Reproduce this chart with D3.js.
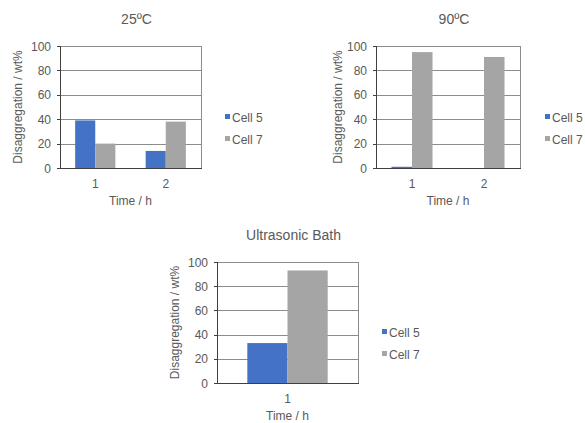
<!DOCTYPE html>
<meta charset="utf-8">
<style>
  body { margin: 0; background: #fff; }
  text { font-family: "Liberation Sans", Arial, sans-serif; fill: #595959; }
  .grid line { stroke: #8c8c8c; stroke-width: 1px; shape-rendering: crispEdges; }
</style>
<body>
<script src="https://d3js.org/d3.v7.min.js"></script>
<script>
// data
var series = ["Cell 5", "Cell 7"];
var colors = ["#4472C4", "#A5A5A5"];
var yTicks = [0, 20, 40, 60, 80, 100];

var times25 = ["1", "2"];
var cell5_25 = [39, 14];
var cell7_25 = [20, 38];

var times90 = ["1", "2"];
var cell5_90 = [1, 0];
var cell7_90 = [95, 91];

var timesUS = ["1"];
var cell5_US = [33];
var cell7_US = [93];

var svg = d3.select("body").append("svg").attr("width", 585).attr("height", 423);

var charts = [
  {title: "25ºC", cats: times25, vals: [cell5_25, cell7_25],
   x0: 60, x1: 201, y0: 46, y1: 168, labX: 18, legX: 225, legY: 117},
  {title: "90ºC", cats: times90, vals: [cell5_90, cell7_90],
   x0: 376, x1: 520, y0: 46, y1: 168, labX: 338, legX: 545, legY: 117},
  {title: "Ultrasonic Bath", cats: timesUS, vals: [cell5_US, cell7_US],
   x0: 217, x1: 358, y0: 262, y1: 383, labX: 175, legX: 382, legY: 332}
];

charts.forEach(function(c) {
  var g = svg.append("g");
  var x = d3.scaleBand().domain(c.cats).range([c.x0, c.x1]).paddingInner(0.43).paddingOuter(0.215);
  var xs = d3.scaleBand().domain(series).range([0, x.bandwidth()]);
  var y = d3.scaleLinear().domain([0, 100]).range([c.y1, c.y0]);

  // gridlines
  g.append("g").attr("class", "grid")
    .selectAll("line").data(yTicks.slice(1)).join("line")
    .attr("x1", c.x0).attr("x2", c.x1)
    .attr("y1", d => Math.round(y(d)) + 0.5).attr("y2", d => Math.round(y(d)) + 0.5);

  // bars
  series.forEach(function(s, si) {
    g.append("g").selectAll("rect").data(c.cats).join("rect")
      .attr("x", d => x(d) + xs(s))
      .attr("width", xs.bandwidth())
      .attr("y", (d, i) => y(c.vals[si][i]))
      .attr("height", (d, i) => y(0) - y(c.vals[si][i]))
      .attr("fill", colors[si]);
  });

  // frame: right border + left/bottom axes
  g.append("line").attr("x1", c.x1 + 0.5).attr("x2", c.x1 + 0.5).attr("y1", c.y0).attr("y2", c.y1)
    .attr("stroke", "#8c8c8c");
  g.append("line").attr("x1", c.x0 + 0.5).attr("x2", c.x0 + 0.5).attr("y1", c.y0).attr("y2", c.y1 + 0.5)
    .attr("stroke", "#404040");
  g.append("line").attr("x1", c.x0).attr("x2", c.x1 + 1).attr("y1", c.y1 + 0.5).attr("y2", c.y1 + 0.5)
    .attr("stroke", "#404040");

  // y tick marks
  g.selectAll(".tm").data(yTicks).join("line")
    .attr("x1", c.x0 - 3).attr("x2", c.x0)
    .attr("y1", d => Math.round(y(d)) + 0.5).attr("y2", d => Math.round(y(d)) + 0.5)
    .attr("stroke", "#404040");

  // y tick labels
  g.selectAll(".yt").data(yTicks).join("text")
    .attr("x", c.x0 - 9).attr("y", d => y(d) + 4.5)
    .attr("text-anchor", "end").attr("font-size", 12)
    .text(d => d);

  // x tick labels
  g.selectAll(".xt").data(c.cats).join("text")
    .attr("x", d => x(d) + x.bandwidth() / 2).attr("y", c.y1 + 20)
    .attr("text-anchor", "middle").attr("font-size", 12)
    .text(d => d);

  // axis titles
  g.append("text").attr("x", (c.x0 + c.x1) / 2).attr("y", c.y1 + 37)
    .attr("text-anchor", "middle").attr("font-size", 12).text("Time / h");
  g.append("text")
    .attr("transform", "translate(" + (c.labX + 4) + "," + ((c.y0 + c.y1) / 2) + ") rotate(-90)")
    .attr("text-anchor", "middle").attr("font-size", 12).text("Disaggregation / wt%");

  // chart title
  g.append("text").attr("x", (c.x0 + c.x1) / 2 + 6).attr("y", c.y0 - 22)
    .attr("text-anchor", "middle").attr("font-size", 14).text(c.title);

  // legend
  series.forEach(function(s, si) {
    var ly = c.legY + si * 22;
    g.append("rect").attr("x", c.legX).attr("y", ly - 3).attr("width", 5).attr("height", 5)
      .attr("fill", colors[si]);
    g.append("text").attr("x", c.legX + 7).attr("y", ly + 4.5)
      .attr("font-size", 12).text(s);
  });
});
</script>
</body>
